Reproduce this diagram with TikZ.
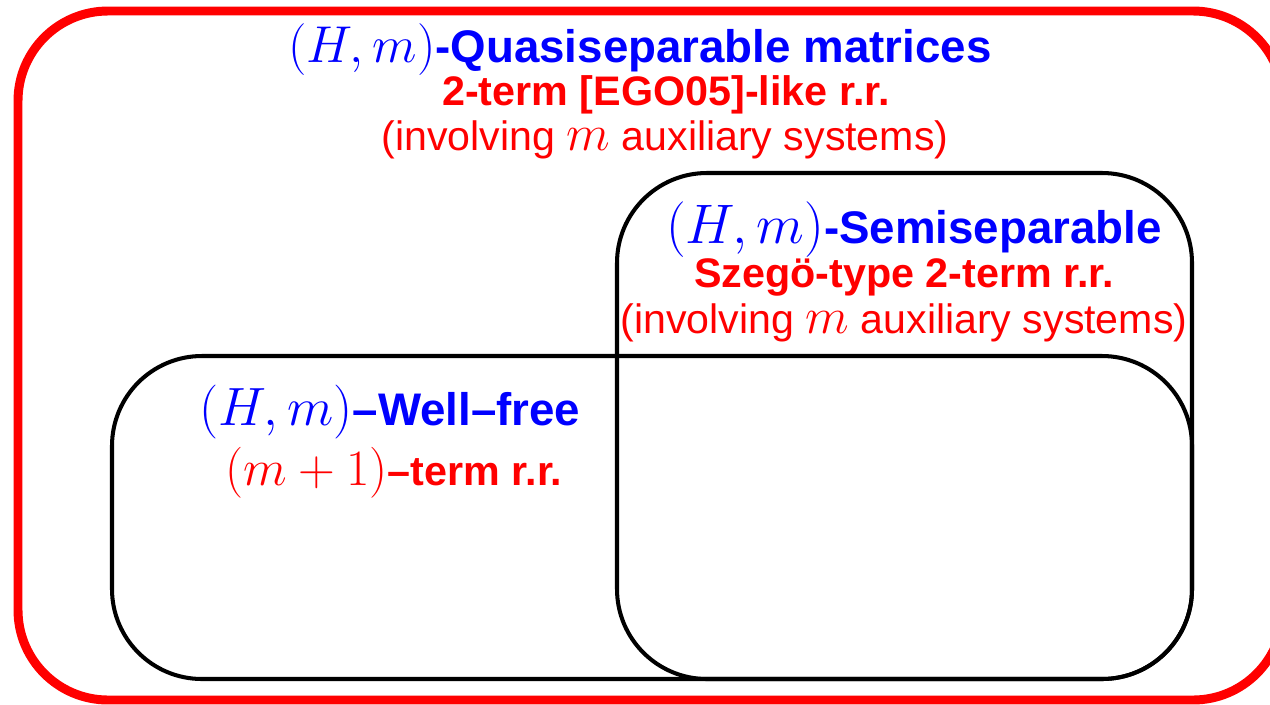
\RequirePackage{fix-cm}
\documentclass[tikz,border=0pt]{standalone}
\usepackage{fontspec}
\setmainfont{Liberation Sans}
\newcommand{\mth}[2][29]{{\fontsize{#1}{#1}\selectfont$#2$}}

\begin{document}
\begin{tikzpicture}[x=0.02cm, y=-0.02cm,
  outerbox/.style={draw=red, line width=5.1pt, rounded corners=1.8cm},
  setbox/.style={draw=black, line width=2.3pt, rounded corners=1.8cm},
  titletext/.style={text=blue, font=\fontsize{26}{31}\selectfont\bfseries, inner sep=0pt, anchor=base},
  subtext/.style={text=red, font=\fontsize{23.5}{28}\selectfont\bfseries, inner sep=0pt, anchor=base},
  notetext/.style={text=red, font=\fontsize{23.4}{28}\selectfont, inner sep=0pt, anchor=base}]
  \useasboundingbox (0,0) rectangle (1270,704);
  \clip (0,0) rectangle (1270,704);

  % the three classes
  \draw[outerbox] (18,11) rectangle (1283,700);
  \draw[setbox] (617,173) rectangle (1192,679);
  \draw[setbox] (112,356) rectangle (1192,679);

  % quasiseparable
  \node[titletext] (qsTitle) at (640,62) {\mth[29.5]{(H,m)}-Quasiseparable matrices};
  \node[subtext] (qsRec) at (666,105) {2-term [EGO05]-like r.r.};
  \node[notetext] (qsNote) at (665,150) {(involving \mth{m} auxiliary systems)};

  % semiseparable
  \node[titletext] (ssTitle) at (914,243) {\mth[31.7]{(H,m)}-Semiseparable};
  \node[subtext] (ssRec) at (904,287) {Szegö-type 2-term r.r.};
  \node[notetext] (ssNote) at (904,333) {(involving \mth{m} auxiliary systems)};

  % well-free
  \node[titletext] (wfTitle) at (390,425) {\mth[30.7]{(H,m)}–Well–free};
  \node[subtext] (wfRec) at (394,485) {\mth{(m+1)}–term r.r.};
\end{tikzpicture}
\end{document}
